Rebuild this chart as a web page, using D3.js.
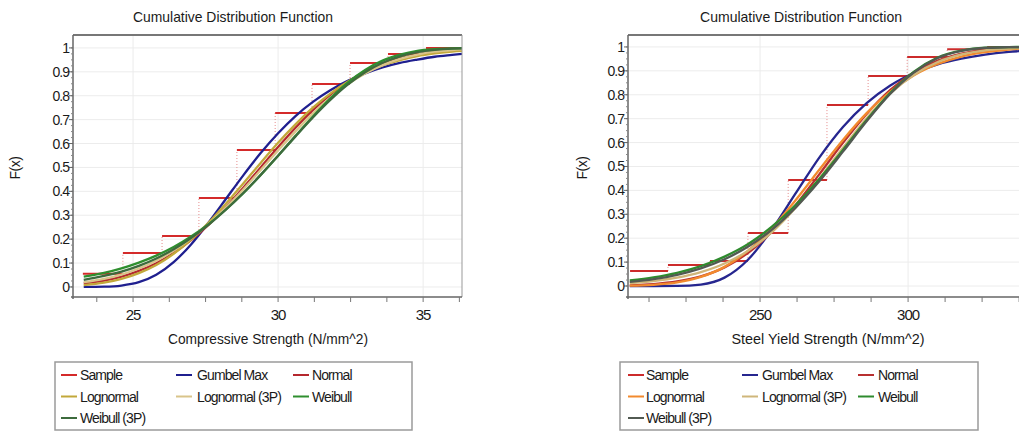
<!DOCTYPE html>
<html>
<head>
<meta charset="utf-8">
<script src="https://cdn.jsdelivr.net/npm/d3@7"></script>
<style>
  html, body { margin: 0; padding: 0; background: #fff; }
  svg { display: block; font-family: "Liberation Sans", Arial, sans-serif; }
</style>
</head>
<body>
<svg id="chart" width="1019" height="432"></svg>
<script>
// ---------- Compressive strength (left panel) ----------
const compX = [23.3, 24.0, 24.6, 25.2, 25.8, 26.4, 27.0, 27.6, 28.2, 28.8, 29.4, 30.0,
               30.6, 31.2, 31.8, 32.4, 33.0, 33.6, 34.2, 34.8, 35.4, 36.0, 36.4];
const compGumbel = [0.0001, 0.0012, 0.006, 0.020, 0.051, 0.104, 0.178, 0.269, 0.368, 0.467, 0.560, 0.643,
                    0.715, 0.774, 0.823, 0.862, 0.893, 0.918, 0.937, 0.951, 0.963, 0.971, 0.976];
const compNormal = [0.015, 0.027, 0.043, 0.067, 0.099, 0.142, 0.196, 0.260, 0.334, 0.415, 0.500, 0.585,
                    0.666, 0.740, 0.804, 0.858, 0.901, 0.933, 0.957, 0.973, 0.984, 0.991, 0.994];
const compLognormal = [0.008, 0.018, 0.034, 0.058, 0.092, 0.139, 0.198, 0.268, 0.348, 0.433, 0.519, 0.603,
                       0.680, 0.750, 0.809, 0.858, 0.897, 0.927, 0.949, 0.966, 0.977, 0.985, 0.988];
const compLognormal3P = [0.020, 0.034, 0.052, 0.077, 0.110, 0.152, 0.203, 0.263, 0.332, 0.408, 0.489, 0.571,
                         0.651, 0.726, 0.792, 0.848, 0.893, 0.928, 0.954, 0.972, 0.984, 0.991, 0.994];
const compWeibull = [0.043, 0.059, 0.078, 0.102, 0.131, 0.167, 0.211, 0.263, 0.324, 0.392, 0.468, 0.549,
                     0.632, 0.713, 0.789, 0.855, 0.908, 0.947, 0.972, 0.988, 0.995, 0.998, 0.999];
const compWeibull3P = [0.030, 0.046, 0.064, 0.088, 0.119, 0.158, 0.205, 0.260, 0.323, 0.393, 0.469, 0.549,
                       0.630, 0.709, 0.782, 0.846, 0.898, 0.938, 0.965, 0.982, 0.992, 0.997, 0.998];
// empirical CDF steps: start of each step and its level
const compSampleX = [23.27, 24.65, 26.0, 27.27, 28.58, 29.9, 31.17, 32.48, 33.79, 35.1];
const compSampleF = [0.055, 0.142, 0.213, 0.372, 0.573, 0.728, 0.849, 0.937, 0.975, 1.0];
const compSampleEnd = 36.4;
const compTicks = [25, 30, 35];

// ---------- Steel yield strength (right panel) ----------
const steelX = [206, 214, 222, 230, 238, 246, 254, 262, 270, 278, 286, 294, 302, 310, 318, 326, 334, 341];
const steelGumbel = [0.0, 0.0, 0.0004, 0.006, 0.035, 0.111, 0.236, 0.387, 0.537, 0.665, 0.765, 0.839,
                     0.891, 0.927, 0.951, 0.968, 0.979, 0.985];
const steelNormal = [0.003, 0.008, 0.019, 0.040, 0.078, 0.139, 0.227, 0.338, 0.467, 0.599, 0.720, 0.820,
                     0.894, 0.943, 0.972, 0.988, 0.995, 0.998];
const steelLognormal = [0.0015, 0.005, 0.015, 0.038, 0.080, 0.148, 0.242, 0.359, 0.486, 0.611, 0.723, 0.813,
                        0.882, 0.929, 0.960, 0.978, 0.989, 0.994];
const steelLognormal3P = [0.012, 0.021, 0.035, 0.058, 0.094, 0.148, 0.225, 0.327, 0.449, 0.578, 0.702, 0.806,
                          0.884, 0.937, 0.969, 0.986, 0.993, 0.997];
const steelWeibull = [0.023, 0.036, 0.055, 0.083, 0.123, 0.176, 0.248, 0.339, 0.448, 0.569, 0.694, 0.808,
                      0.897, 0.956, 0.985, 0.997, 0.9995, 1.0];
const steelWeibull3P = [0.017, 0.029, 0.047, 0.074, 0.112, 0.165, 0.236, 0.328, 0.438, 0.562, 0.689, 0.804,
                        0.894, 0.954, 0.984, 0.996, 0.999, 1.0];
const steelSampleX = [206.1, 218.9, 233.1, 245.9, 259.5, 272.6, 286.5, 299.7, 313.2, 326.7];
const steelSampleF = [0.063, 0.088, 0.105, 0.222, 0.443, 0.757, 0.879, 0.958, 0.99, 1.0];
const steelSampleEnd = 341;
const steelTicks = [250, 300];

// ---------- shared ----------
const yTicks = [0, 0.1, 0.2, 0.3, 0.4, 0.5, 0.6, 0.7, 0.8, 0.9, 1];
const yTickLabels = ["0", "0.1", "0.2", "0.3", "0.4", "0.5", "0.6", "0.7", "0.8", "0.9", "1"];
const seriesNames = ["Sample", "Gumbel Max", "Normal", "Lognormal", "Lognormal (3P)", "Weibull", "Weibull (3P)"];
const chartTitle = "Cumulative Distribution Function";
const yAxisTitle = "F(x)";

const textColor = "#1a1a1a";
const svg = d3.select("#chart");

function drawPanel(p) {
  const x = d3.scaleLinear().domain(p.xDomain).range([p.left, p.right]);
  const y = d3.scaleLinear().domain(p.yDomain).range([p.bottom, p.top]);
  const g = svg.append("g");
  const clipId = "clip-" + p.id;
  g.append("clipPath").attr("id", clipId)
    .append("rect").attr("x", p.left).attr("y", p.top)
    .attr("width", p.right - p.left).attr("height", p.bottom - p.top);

  // grid
  g.append("g").selectAll("line").data(yTicks).join("line")
    .attr("x1", p.left).attr("x2", p.right)
    .attr("y1", d => y(d)).attr("y2", d => y(d))
    .attr("stroke", "#ececec").attr("stroke-width", 1);
  g.append("g").selectAll("line").data(p.xTicks).join("line")
    .attr("x1", d => x(d)).attr("x2", d => x(d))
    .attr("y1", p.top).attr("y2", p.bottom)
    .attr("stroke", "#ececec").attr("stroke-width", 1);

  const plot = g.append("g").attr("clip-path", `url(#${clipId})`);

  // sample: horizontal steps + dotted risers
  const steps = p.sampleX.map((sx, i) => ({
    x0: sx, x1: i < p.sampleX.length - 1 ? p.sampleX[i + 1] : p.sampleEnd,
    f: p.sampleF[i], prev: i > 0 ? p.sampleF[i - 1] : 0
  }));
  plot.append("g").selectAll("line").data(steps.slice(1)).join("line")
    .attr("x1", d => x(d.x0)).attr("x2", d => x(d.x0))
    .attr("y1", d => y(d.prev)).attr("y2", d => y(d.f))
    .attr("stroke", "#e58a8a").attr("stroke-width", 1)
    .attr("stroke-dasharray", "1,2");
  plot.append("g").selectAll("line").data(steps).join("line")
    .attr("x1", d => x(d.x0)).attr("x2", d => x(d.x1))
    .attr("y1", d => y(d.f)).attr("y2", d => y(d.f))
    .attr("stroke", p.colors[0]).attr("stroke-width", 2);

  // fitted distributions
  const line = d3.line().x(d => x(d[0])).y(d => y(d[1])).curve(d3.curveMonotoneX);
  p.curves.forEach((vals, i) => {
    plot.append("path")
      .datum(p.xs.map((xv, j) => [xv, vals[j]]))
      .attr("fill", "none")
      .attr("stroke", p.colors[i + 1])
      .attr("stroke-width", 2.3)
      .attr("d", line);
  });

  // frame
  g.append("line").attr("x1", p.left).attr("x2", p.right).attr("y1", p.top).attr("y2", p.top)
    .attr("stroke", "#777").attr("stroke-width", 2);
  g.append("line").attr("x1", p.right).attr("x2", p.right).attr("y1", p.top).attr("y2", p.bottom)
    .attr("stroke", "#999").attr("stroke-width", 1);

  // y axis
  const yAxis = g.append("g").attr("transform", `translate(${p.left},0)`);
  yAxis.append("line").attr("x1", 0).attr("x2", 0).attr("y1", p.top).attr("y2", p.bottom + 2)
    .attr("stroke", "#666").attr("stroke-width", 1.5);
  const yMinor = d3.range(0, 41).map(i => i * 0.025).filter(v => v <= p.yDomain[1]);
  yAxis.selectAll("line.minor").data(yMinor).join("line").attr("class", "minor")
    .attr("x1", -2).attr("x2", 0).attr("y1", d => y(d)).attr("y2", d => y(d))
    .attr("stroke", "#888").attr("stroke-width", 1);
  yAxis.selectAll("line.major").data(yTicks).join("line").attr("class", "major")
    .attr("x1", -4).attr("x2", 0).attr("y1", d => y(d)).attr("y2", d => y(d))
    .attr("stroke", "#666").attr("stroke-width", 1);
  yAxis.selectAll("text").data(yTicks).join("text")
    .attr("x", -4).attr("y", d => y(d) + 5)
    .attr("text-anchor", "end").attr("font-size", 14).attr("letter-spacing", -1)
    .attr("fill", textColor)
    .text((d, i) => yTickLabels[i]);

  // x axis
  const xAxis = g.append("g").attr("transform", `translate(0,${p.bottom})`);
  xAxis.append("line").attr("x1", p.left - 2).attr("x2", p.right).attr("y1", 0).attr("y2", 0)
    .attr("stroke", "#666").attr("stroke-width", 1.5);
  xAxis.selectAll("line.tick").data(p.xMinor).join("line").attr("class", "tick")
    .attr("x1", d => x(d)).attr("x2", d => x(d)).attr("y1", 0).attr("y2", 5)
    .attr("stroke", "#777").attr("stroke-width", 1);
  xAxis.selectAll("text").data(p.xTicks).join("text")
    .attr("x", d => x(d)).attr("y", 23)
    .attr("text-anchor", "middle").attr("font-size", 15).attr("letter-spacing", -1)
    .attr("fill", textColor).text(d => d);

  // titles
  g.append("text").attr("x", p.titleX).attr("y", 22).attr("text-anchor", "middle")
    .attr("font-size", 15).attr("textLength", p.titleW).attr("lengthAdjust", "spacingAndGlyphs")
    .attr("fill", textColor).text(chartTitle);
  g.append("text").attr("x", p.xTitleX).attr("y", 344).attr("text-anchor", "middle")
    .attr("font-size", 15).attr("textLength", p.xTitleW).attr("lengthAdjust", "spacingAndGlyphs")
    .attr("fill", textColor).text(p.xTitle);
  g.append("text").attr("transform", `translate(${p.yTitleX},168) rotate(-90)`)
    .attr("text-anchor", "middle").attr("font-size", 14).attr("letter-spacing", -0.5)
    .attr("fill", textColor).text(yAxisTitle);

  // legend
  const lg = g.append("g");
  lg.append("rect").attr("x", p.legend.x).attr("y", 362).attr("width", p.legend.w).attr("height", 68)
    .attr("fill", "#fff").attr("stroke", "#9a9a9a").attr("stroke-width", 1.5);
  seriesNames.forEach((name, i) => {
    const col = i % 3, row = Math.floor(i / 3);
    const sx = p.legend.swatch[col], tx = p.legend.text[col];
    const yy = 375 + row * 21.5;
    lg.append("line").attr("x1", sx).attr("x2", sx + 16).attr("y1", yy).attr("y2", yy)
      .attr("stroke", p.colors[i]).attr("stroke-width", 2);
    lg.append("text").attr("x", tx).attr("y", yy + 5).attr("font-size", 14)
      .attr("letter-spacing", -0.9).attr("fill", textColor).text(name);
  });
}

drawPanel({
  id: "comp", left: 73, right: 462, top: 35, bottom: 297,
  xDomain: [22.93, 36.34], yDomain: [-0.042, 1.054],
  xTicks: compTicks, xMinor: d3.range(0, 11).map(i => 23.75 + i * 1.25),
  xs: compX,
  curves: [compGumbel, compNormal, compLognormal, compLognormal3P, compWeibull, compWeibull3P],
  sampleX: compSampleX, sampleF: compSampleF, sampleEnd: compSampleEnd,
  colors: ["#d42a2a", "#1f1f8f", "#b5282e", "#c2a83a", "#d9c48a", "#2f8f2f", "#3d6b3d"],
  titleX: 233, titleW: 200,
  xTitle: "Compressive Strength (N/mm^2)", xTitleX: 268, xTitleW: 200,
  yTitleX: 20,
  legend: { x: 55, w: 357, swatch: [61, 176, 293], text: [80, 197, 312] }
});

drawPanel({
  id: "steel", left: 628, right: 1028, top: 35, bottom: 297,
  xDomain: [205.4, 340.5], yDomain: [-0.046, 1.05],
  xTicks: steelTicks, xMinor: d3.range(0, 11).map(i => 212.5 + i * 12.5),
  xs: steelX,
  curves: [steelGumbel, steelNormal, steelLognormal, steelLognormal3P, steelWeibull, steelWeibull3P],
  sampleX: steelSampleX, sampleF: steelSampleF, sampleEnd: steelSampleEnd,
  colors: ["#cc2b2b", "#26268f", "#b83030", "#f28a2e", "#cfb67a", "#2e8b2e", "#525a52"],
  titleX: 801, titleW: 202,
  xTitle: "Steel Yield  Strength (N/mm^2)", xTitleX: 828, xTitleW: 193,
  yTitleX: 587,
  legend: { x: 620, w: 358, swatch: [628, 742, 858], text: [646, 762, 878] }
});
</script>
</body>
</html>
